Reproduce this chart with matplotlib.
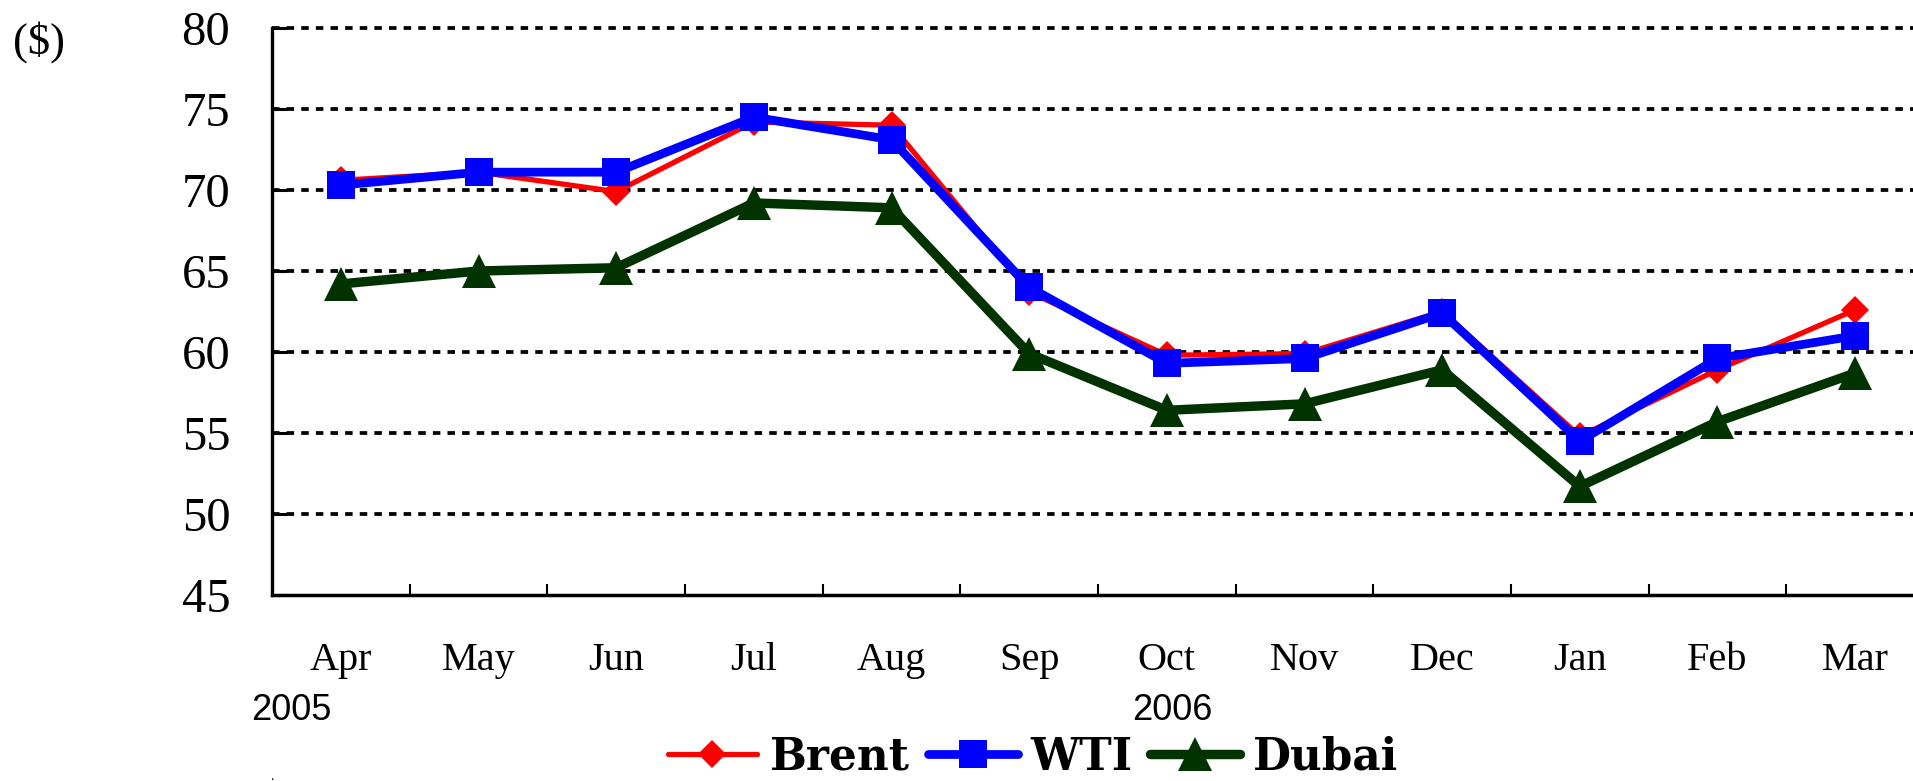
import matplotlib
matplotlib.use("Agg")
import matplotlib.pyplot as plt
from matplotlib.transforms import blended_transform_factory

months = ["Apr", "May", "Jun", "Jul", "Aug", "Sep", "Oct", "Nov", "Dec", "Jan", "Feb", "Mar"]
years = ["2005", "2006"]
brent = [70.6, 71.1, 69.9, 74.2, 74.0, 63.7, 59.8, 59.9, 62.5, 54.8, 58.9, 62.6]
wti = [70.3, 71.1, 71.1, 74.5, 73.1, 64.0, 59.3, 59.6, 62.4, 54.5, 59.6, 61.0]
dubai = [64.2, 65.0, 65.2, 69.2, 68.9, 59.9, 56.4, 56.8, 58.9, 51.7, 55.7, 58.7]
yticks = [45, 50, 55, 60, 65, 70, 75, 80]

serif = "Liberation Serif"
W, H = 1913, 781

fig = plt.figure(figsize=(W / 100, H / 100), dpi=100)
ax = fig.add_axes([272 / W, 1 - 595 / H, (1924 - 272) / W, (595 - 28) / H])

x = list(range(len(months)))
ax.plot(x, brent, color="#ff0000", lw=3.8, marker="D", ms=14.5, mew=0,
        label="Brent", zorder=3, solid_capstyle="round")
ax.plot(x, wti, color="#0000ff", lw=6.3, marker="s", ms=19.5, mew=0,
        label="WTI", zorder=4, solid_capstyle="round")
ax.plot(x, dubai, color="#003300", lw=6.8, marker="^", ms=25, mew=0,
        label="Dubai", zorder=2, solid_capstyle="round")

ax.set_xlim(-0.5, len(months) - 0.5)
ax.set_ylim(45, 80)

# horizontal dotted grid
for v in yticks[1:]:
    ax.axhline(v, color="black", lw=2.7, ls=(0, (2.0, 1.9)), zorder=1, clip_on=False)

ax.set_yticks(yticks)
ax.set_yticklabels([str(v) for v in yticks], fontfamily=serif, fontsize=35)
ax.tick_params(axis="y", direction="in", length=11, width=2.2, pad=30)

ax.set_xticks([i + 0.5 for i in range(len(months) - 1)])
ax.set_xticklabels([])
ax.tick_params(axis="x", direction="in", length=8, width=1.5)

for side in ("top", "right"):
    ax.spines[side].set_visible(False)
ax.spines["left"].set_linewidth(2.4)
ax.spines["bottom"].set_linewidth(2.5)

trans = blended_transform_factory(ax.transData, fig.transFigure)
for i, m in enumerate(months):
    ax.text(i, 1 - 670 / H, m, transform=trans, ha="center", va="baseline",
            fontfamily=serif, fontsize=29)

for xpix, yr in zip([291, 1172], years):
    fig.text(xpix / W, 1 - 720 / H, yr, ha="center", va="baseline",
             fontfamily="Liberation Sans", fontsize=26)

fig.text(13 / W, 1 - 42 / H, "($)", fontfamily=serif, fontsize=32,
         ha="left", va="center")
fig.text(270 / W, 1 - 776 / H, ".", fontfamily=serif, fontsize=10,
         ha="left", va="center")

fig.legend(loc="center", bbox_to_anchor=(1033 / W, 1 - 757 / H), ncol=3,
           frameon=False, handlelength=2.05, handletextpad=0.3,
           columnspacing=0.4, borderaxespad=0, borderpad=0,
           prop={"family": "DejaVu Serif", "weight": "bold", "size": 31.5})

fig.savefig("out.png", dpi=100)
